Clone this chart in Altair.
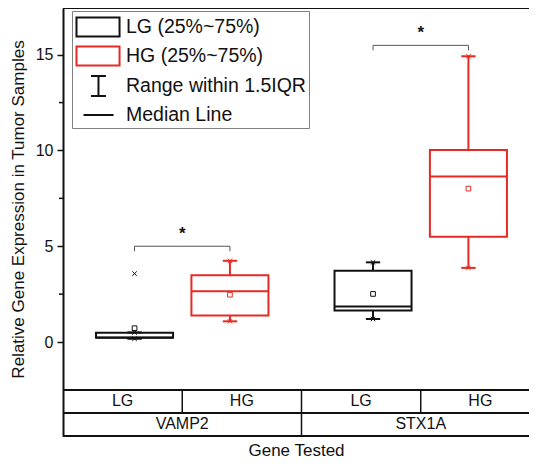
import altair as alt
import pandas as pd

# ---------------- data ----------------
genes = ["VAMP2", "VAMP2", "STX1A", "STX1A"]
groups = ["LG", "HG", "LG", "HG"]
q1 = [0.22, 1.39, 1.64, 5.49]
q3 = [0.48, 3.48, 3.72, 10.02]
median = [0.24, 2.65, 1.86, 8.64]
mean = [0.72, 2.47, 2.51, 8.01]
whisk_lo = [0.17, 1.08, 1.20, 3.87]
whisk_hi = [0.50, 4.24, 4.16, 14.92]

outlier_gene = ["VAMP2"]
outlier_group = ["LG"]
outlier_val = [3.57]

bracket_gene = ["VAMP2", "STX1A"]
bracket_y = [5.0, 15.49]

gene_order = ["VAMP2", "STX1A"]
group_order = ["LG", "HG"]
y_ticks = [0, 5, 10, 15]
minor_ticks = [2.5, 7.5, 12.5]
legend_labels = ["LG (25%~75%)", "HG (25%~75%)", "Range within 1.5IQR", "Median Line"]

# ---------------- layout / style ----------------
FONT = "Liberation Sans"
RED = "#e52a24"
BLACK = "#111111"
Y_MIN, Y_MAX = -4.908, 17.44
X_MAX = 3.908
TABLE_TOP, TABLE_MID = -2.5, -3.707
BOX_HALF = 0.323
CAP_HALF = 0.06
GROUP_OFF = 0.4
DROP = 0.26

def gene_center(g):
    return 2 * gene_order.index(g) + 1

def box_center(g, grp):
    return gene_center(g) + (-GROUP_OFF if grp == "LG" else GROUP_OFF)

box = pd.DataFrame({
    "gene": genes, "group": groups, "q1": q1, "q3": q3, "median": median,
    "mean": mean, "lo": whisk_lo, "hi": whisk_hi,
})
box["c"] = [box_center(g, k) for g, k in zip(genes, groups)]
box["l"] = box["c"] - BOX_HALF
box["r"] = box["c"] + BOX_HALF
box["cl"] = box["c"] - CAP_HALF
box["cr"] = box["c"] + CAP_HALF

caps = pd.concat([
    box[["group", "c", "cl", "cr"]].assign(v=box["lo"]),
    box[["group", "c", "cl", "cr"]].assign(v=box["hi"]),
])

outl = pd.DataFrame({"group": outlier_group, "v": outlier_val})
outl["c"] = [box_center(g, k) for g, k in zip(outlier_gene, outlier_group)]

br = pd.DataFrame({"gene": bracket_gene, "y": bracket_y})
br["a"] = [box_center(g, "LG") for g in bracket_gene]
br["b"] = [box_center(g, "HG") for g in bracket_gene]
br["m"] = [gene_center(g) for g in bracket_gene]
br["yd"] = br["y"] - DROP
br["ys"] = br["y"] + 0.62
br["star"] = "*"

xs = alt.Scale(domain=[0, X_MAX], nice=False, zero=False)
ys = alt.Scale(domain=[Y_MIN, Y_MAX], nice=False, zero=False)
col = alt.Color("group:N", scale=alt.Scale(domain=["LG", "HG"], range=[BLACK, RED]), legend=None)

base_y_axis = alt.Axis(
    values=y_ticks, title="Relative Gene Expression in Tumor Samples",
    labelFont=FONT, labelFontSize=16, labelColor=BLACK, labelPadding=4,
    tickSize=6, tickWidth=1.5, tickColor=BLACK,
    domainColor=BLACK, domainWidth=2, grid=False,
    titleFont=FONT, titleFontSize=17, titleFontWeight="normal", titleColor=BLACK,
    titleX=-45, titleY=201, titleAlign="center", titleBaseline="middle", titleAngle=-90,
)
x_axis = alt.Axis(
    title="Gene Tested", labels=False, ticks=False, domain=False, grid=False,
    titleFont=FONT, titleFontSize=17, titleFontWeight="normal", titleColor=BLACK,
    titleY=14, titleBaseline="middle",
)

whisk = alt.Chart(box).mark_rule(strokeWidth=2).encode(
    x=alt.X("c:Q", scale=xs, axis=x_axis),
    y=alt.Y("lo:Q", scale=ys, axis=base_y_axis),
    y2="hi:Q", color=col,
)
capr = alt.Chart(caps).mark_rule(strokeWidth=2).encode(
    x=alt.X("cl:Q", scale=xs), x2="cr:Q", y=alt.Y("v:Q", scale=ys), color=col,
)
XPATH = "M-1,-1L1,1M1,-1L-1,1"
capx = alt.Chart(caps).mark_point(shape=XPATH, size=20, strokeWidth=1, filled=False, opacity=1).encode(
    x=alt.X("c:Q", scale=xs), y=alt.Y("v:Q", scale=ys), color=col,
)
rects = [
    alt.Chart(box).transform_filter(alt.datum.group == grp).mark_rect(
        fill="white", stroke=c, strokeWidth=2
    ).encode(x=alt.X("l:Q", scale=xs), x2="r:Q", y=alt.Y("q1:Q", scale=ys), y2="q3:Q")
    for grp, c in [("LG", BLACK), ("HG", RED)]
]
med = alt.Chart(box).mark_rule(strokeWidth=2).encode(
    x=alt.X("l:Q", scale=xs), x2="r:Q", y=alt.Y("median:Q", scale=ys), color=col,
)
mn = alt.Chart(box).mark_point(shape="square", size=22, strokeWidth=1, filled=False, opacity=1).encode(
    x=alt.X("c:Q", scale=xs), y=alt.Y("mean:Q", scale=ys), color=col,
)
out = alt.Chart(outl).mark_point(shape=XPATH, size=20, strokeWidth=1, filled=False, opacity=1).encode(
    x=alt.X("c:Q", scale=xs), y=alt.Y("v:Q", scale=ys), color=col,
)

# significance brackets
br_h = alt.Chart(br).mark_rule(color="#555555", strokeWidth=1).encode(
    x=alt.X("a:Q", scale=xs), x2="b:Q", y=alt.Y("y:Q", scale=ys))
br_l = alt.Chart(br).mark_rule(color="#555555", strokeWidth=1).encode(
    x=alt.X("a:Q", scale=xs), y=alt.Y("yd:Q", scale=ys), y2="y:Q")
br_r = alt.Chart(br).mark_rule(color="#555555", strokeWidth=1).encode(
    x=alt.X("b:Q", scale=xs), y=alt.Y("yd:Q", scale=ys), y2="y:Q")
br_t = alt.Chart(br).mark_text(font=FONT, fontSize=17, fontWeight="bold", color=BLACK, baseline="middle").encode(
    x=alt.X("m:Q", scale=xs), y=alt.Y("ys:Q", scale=ys), text="star:N")

# minor ticks
mt = alt.Chart(pd.DataFrame({"v": minor_ticks})).mark_rule(color=BLACK, strokeWidth=1.5).encode(
    x=alt.value(-4), x2=alt.value(0), y=alt.Y("v:Q", scale=ys))

# frame + category table lines
hlines = pd.DataFrame({"y": [Y_MAX, TABLE_TOP, TABLE_MID, Y_MIN], "x0": 0.0, "x1": X_MAX})
hl = alt.Chart(hlines).mark_rule(color=BLACK, strokeWidth=2).encode(
    x=alt.X("x0:Q", scale=xs), x2="x1:Q", y=alt.Y("y:Q", scale=ys))
vlines = pd.DataFrame({
    "x": [1.0, 2.0, 3.0],
    "y0": [TABLE_TOP, TABLE_TOP, TABLE_TOP],
    "y1": [TABLE_MID, Y_MIN, TABLE_MID],
})
vl = alt.Chart(vlines).mark_rule(color=BLACK, strokeWidth=1.5).encode(
    x=alt.X("x:Q", scale=xs), y=alt.Y("y0:Q", scale=ys), y2="y1:Q")

tab1 = pd.DataFrame({
    "label": [grp for g in gene_order for grp in group_order],
    "x": [gene_center(g) + (-0.5 if grp == "LG" else 0.5) for g in gene_order for grp in group_order],
})
tab1["y"] = (TABLE_TOP + TABLE_MID) / 2
tab2 = pd.DataFrame({"label": gene_order, "x": [gene_center(g) for g in gene_order]})
tab2["y"] = (TABLE_MID + Y_MIN) / 2
tabt = alt.Chart(pd.concat([tab1, tab2])).mark_text(font=FONT, fontSize=16, color=BLACK, baseline="middle").encode(
    x=alt.X("x:Q", scale=xs), y=alt.Y("y:Q", scale=ys), text="label:N")

# legend (drawn by Vega from a shape/stroke scale; data rows have no position)
leg_df = pd.DataFrame({"entry": legend_labels, "px": [None] * 4, "py": [None] * 4})
SYM = 530  # symbol size; path units = sqrt(SYM)/2 px
paths = [
    "M-1,-0.83H2.74V0.83H-1Z",
    "M-1,-0.83H2.74V0.83H-1Z",
    "M0.26,-0.87H1.56M0.91,-0.87V0.87M0.26,0.87H1.56",
    "M-0.39,0H2.22",
]
leg = alt.Chart(leg_df).mark_point(size=SYM, strokeWidth=2, filled=False, opacity=1).encode(
    x=alt.X("px:Q", scale=xs),
    y=alt.Y("py:Q", scale=ys),
    shape=alt.Shape("entry:N", scale=alt.Scale(domain=legend_labels, range=paths), title=None),
    stroke=alt.Stroke("entry:N", scale=alt.Scale(domain=legend_labels, range=[BLACK, RED, BLACK, BLACK]), title=None),
)

chart = alt.layer(
    hl, vl, mt, whisk, *rects, med, capr, capx, mn, out, br_h, br_l, br_r, br_t, tabt, leg
).properties(
    width=466, height=428,
    autosize=alt.AutoSizeParams(type="none"),
    padding={"left": 55, "top": 0, "right": 0, "bottom": 25},
).configure_view(strokeWidth=0, stroke="transparent").configure_legend(
    orient="none", legendX=9, legendY=3,
    strokeColor="#808080", strokeWidth=1, padding=3, fillColor="white",
    labelFont=FONT, labelFontSize=19.5, labelColor=BLACK, labelOffset=25, labelLimit=400,
    symbolSize=SYM, symbolStrokeWidth=2, symbolFillColor="transparent", rowPadding=1,
)

chart.save("out.html", embed_options={"renderer": "svg", "actions": False})
